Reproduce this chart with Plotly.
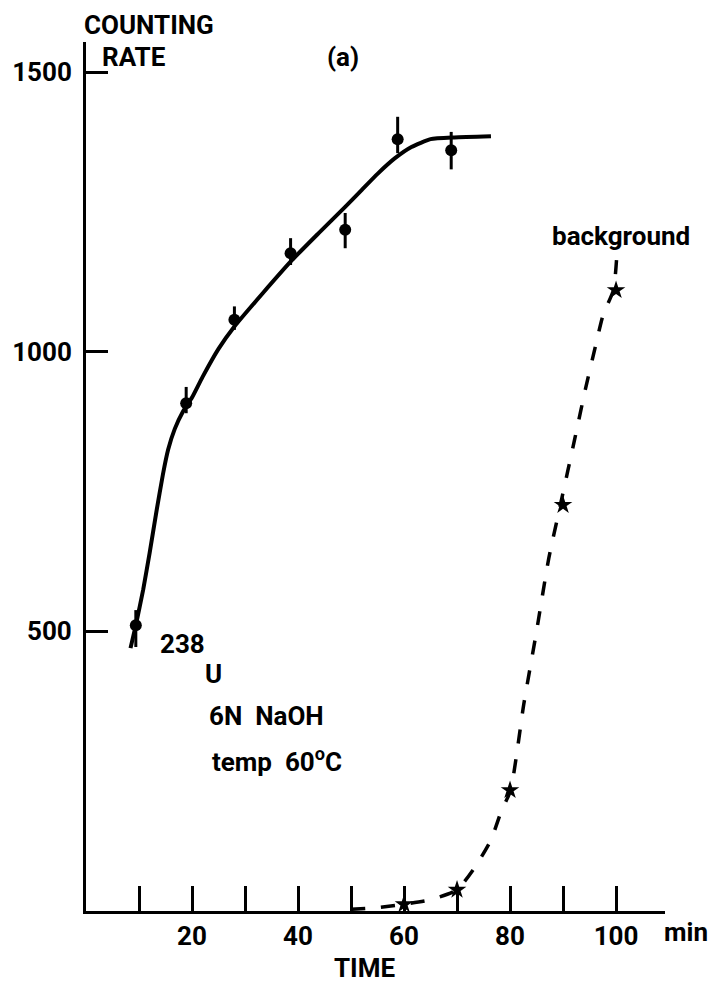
import plotly.graph_objects as go

# Counting rate of 238U in 6N NaOH at 60 °C, with error bars
time_min = [9.4, 18.9, 28.0, 38.6, 48.9, 58.8, 68.9]
rate = [511, 908, 1057, 1176, 1218, 1380, 1360]
err_plus = [27, 29, 24, 27, 30, 40, 33]
err_minus = [39, 18, 18, 21, 33, 25, 34]

# Smooth curve drawn through the measurements
fit_time = [8.4, 9.4, 10.8, 12.0, 13.3, 14.5, 15.5, 16.75, 18.3, 20.0, 22.0,
            25.0, 28.0, 33.3, 38.9, 43.9, 48.9, 52.0, 55.0, 58.3, 61.4, 65.0,
            69.5, 76.4]
fit_rate = [470, 511, 575, 640, 715, 780, 825, 862, 893, 918, 955,
            1005, 1045, 1104, 1164, 1212, 1259, 1289, 1318, 1346, 1366, 1380,
            1383, 1385]

# Background counting rate
bg_time = [60, 70, 80, 90, 100]
bg_rate = [12, 38, 216, 726, 1110]

bg_curve_time = [50, 55, 60, 65, 70, 73.5, 76.4, 78.3, 80.1, 82.6, 85.0, 87.3,
                 89.5, 92.3, 94.2, 96.1, 97.6, 99.5, 100.3]
bg_curve_rate = [3, 6, 12, 20, 38, 80, 127, 177, 216, 370, 500, 630,
                 726, 848, 932, 1009, 1067, 1110, 1195]

x_ticks = [20, 40, 60, 80, 100]
x_tick_text = ["20", "40", "60", "80", "100"]
y_ticks = [500, 1000, 1500]
y_tick_text = ["500", "1000", "1500"]

FONT = "Roboto, DejaVu Sans, sans-serif"
INK = "#000000"
SIZE = 26

fig = go.Figure()

fig.add_trace(go.Scatter(
    x=fit_time, y=fit_rate, mode="lines",
    line=dict(color=INK, width=4, shape="spline", smoothing=0.5),
    hoverinfo="skip", showlegend=False))

fig.add_trace(go.Scatter(
    x=time_min, y=rate, mode="markers",
    marker=dict(symbol="circle", size=12, color=INK),
    error_y=dict(type="data", array=err_plus, arrayminus=err_minus,
                 symmetric=False, color=INK, thickness=3, width=0),
    showlegend=False))

fig.add_trace(go.Scatter(
    x=bg_curve_time, y=bg_curve_rate, mode="lines",
    line=dict(color=INK, width=3.5, dash="14px,16px", shape="spline", smoothing=0.6),
    hoverinfo="skip", showlegend=False))

fig.add_trace(go.Scatter(
    x=bg_time, y=bg_rate, mode="markers",
    marker=dict(symbol="star", size=14, color=INK),
    showlegend=False))

# free text, placed in page pixels (x, y, horizontal anchor)
labels = [
    ("COUNTING", 145, 25, "center"),
    ("RATE", 130, 57, "center"),
    ("(a)", 341, 57, "center"),
    ("background", 621, 236, "center"),
    ("238", 179, 644, "center"),
    ("U", 210, 674, "center"),
    ("6N  NaOH", 204, 716, "left"),
    ("temp  60<sup>o</sup>C", 207, 760, "left"),
    ("min", 710, 932, "right"),
    ("TIME", 362, 968, "center"),
]

L, R, T, B = 82, 46, 42, 74
W, H = 711, 985
pw, ph = W - L - R, H - T - B

annotations = []
for text, px, py, anchor in labels:
    annotations.append(dict(
        text=text, x=(px - L) / pw, y=1 - (py - T) / ph,
        xref="paper", yref="paper", xanchor=anchor, yanchor="middle",
        showarrow=False,
        font=dict(family=FONT, size=SIZE, color=INK, weight="bold")))

fig.update_layout(
    width=W, height=H,
    margin=dict(l=L, r=R, t=T, b=B, pad=0),
    paper_bgcolor="white", plot_bgcolor="white",
    font=dict(family=FONT, size=SIZE, color=INK, weight="bold"),
    annotations=annotations,
    xaxis=dict(
        range=[0, pw / 5.337], showgrid=False, zeroline=False,
        showline=True, linecolor=INK, linewidth=3,
        ticks="inside", ticklen=25, tickwidth=3, tickcolor=INK,
        tickvals=x_ticks, ticktext=x_tick_text,
        minor=dict(tick0=0, dtick=10, ticks="inside", ticklen=25,
                   tickwidth=3, tickcolor=INK, showgrid=False),
        tickfont=dict(family=FONT, size=SIZE, color=INK, weight="bold"),
        fixedrange=True),
    yaxis=dict(
        range=[0, ph / 0.5593], showgrid=False, zeroline=False,
        showline=True, linecolor=INK, linewidth=3,
        ticks="inside", ticklen=22, tickwidth=2.5, tickcolor=INK,
        tickvals=y_ticks, ticktext=y_tick_text, ticklabelstandoff=6,
        tickfont=dict(family=FONT, size=SIZE, color=INK, weight="bold"),
        fixedrange=True),
)

fig.write_html("out.html")
